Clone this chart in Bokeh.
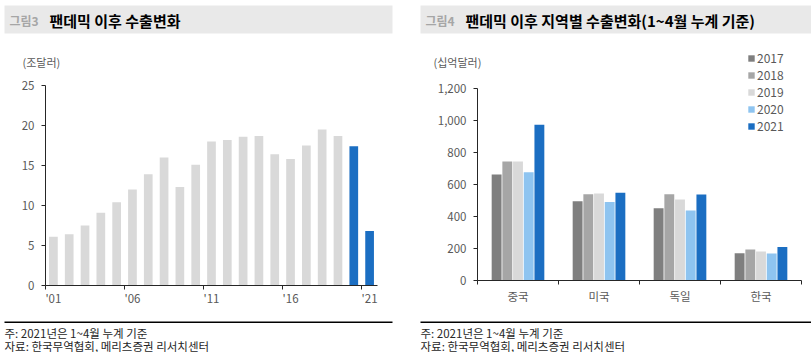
from bokeh.plotting import figure
from bokeh.models import (FixedTicker, Label, BoxAnnotation, Legend, LegendItem,
                          NumeralTickFormatter, ColumnDataSource, Range1d)
from bokeh.layouts import row
from bokeh.embed import file_html
from bokeh.resources import INLINE
from bokeh.transform import dodge

FONT = "Noto Sans CJK KR"

# ---- Chart 1 data: world exports (trillion USD) ----
world_years = [2001, 2002, 2003, 2004, 2005, 2006, 2007, 2008, 2009, 2010, 2011,
               2012, 2013, 2014, 2015, 2016, 2017, 2018, 2019, 2020, 2021]
world_exports = [6.1, 6.4, 7.5, 9.1, 10.4, 12.0, 13.9, 16.0, 12.3, 15.1, 18.0,
                 18.2, 18.6, 18.7, 16.4, 15.8, 17.5, 19.5, 18.7, 17.4, 6.8]
world_tick_years = [2001, 2006, 2011, 2016, 2021]
world_tick_labels = ["'01", "'06", "'11", "'16", "'21"]
world_y_ticks = [0, 5, 10, 15, 20, 25]
highlight_years = [2020, 2021]

# ---- Chart 2 data: exports by country, Jan-Apr cumulative (billion USD) ----
regions = ["중국", "미국", "독일", "한국"]
series_years = ["2017", "2018", "2019", "2020", "2021"]
exp_2017 = [662, 495, 451, 171]
exp_2018 = [743, 539, 539, 194]
exp_2019 = [743, 543, 507, 182]
exp_2020 = [676, 491, 438, 169]
exp_2021 = [973, 549, 537, 209]
region_y_ticks = [0, 200, 400, 600, 800, 1000, 1200]

GRAY_BAR = "#D9D9D9"
BLUE = "#1B6EC2"
series_colors = ["#7F7F7F", "#A6A6A6", "#D9D9D9", "#8EC4F0", "#1B6EC2"]
TXT = "#595959"
AXIS = "#262626"
H = 352


def ranges(fig_w, px_left, px_right, d_left, d_right, px_bottom, px_top, d_bottom, d_top):
    """Map the whole canvas so the plot area lands at the given pixel box."""
    sx = (px_right - px_left) / (d_right - d_left)
    sy = (px_bottom - px_top) / (d_top - d_bottom)
    xr = Range1d(d_left - px_left / sx, d_right + (fig_w - px_right) / sx)
    yr = Range1d(d_bottom - (H - px_bottom) / sy, d_top + px_top / sy)
    return xr, yr


def decorate(p, left, right, fig_label, title, title_x, unit, unit_x):
    p.add_layout(BoxAnnotation(left=left, right=right, top=5, bottom=33,
                               left_units="canvas", right_units="canvas",
                               top_units="canvas", bottom_units="canvas",
                               fill_color="#E9E9E9", fill_alpha=1, line_color=None))
    p.add_layout(Label(x=left + 5, y=20, x_units="canvas", y_units="canvas", text=fig_label,
                       text_baseline="middle", text_font=FONT, text_font_size="12px",
                       text_font_style="bold", text_color="#A6A6A6"))
    p.add_layout(Label(x=title_x, y=20, x_units="canvas", y_units="canvas", text=title,
                       text_baseline="middle", text_font=FONT, text_font_size="15px",
                       text_font_style="bold", text_color="#000000"))
    p.add_layout(Label(x=unit_x, y=61, x_units="canvas", y_units="canvas", text=unit,
                       text_baseline="middle", text_font=FONT, text_font_size="11px",
                       text_color=TXT))
    p.add_layout(BoxAnnotation(left=left, right=right, top=321, bottom=322.5,
                               left_units="canvas", right_units="canvas",
                               top_units="canvas", bottom_units="canvas",
                               fill_color="#000000", fill_alpha=1, line_color=None))
    p.add_layout(Label(x=left, y=332, x_units="canvas", y_units="canvas",
                       text="주: 2021년은 1~4월 누계 기준",
                       text_baseline="middle", text_font=FONT, text_font_size="11.5px",
                       text_color="#262626"))
    p.add_layout(Label(x=left, y=345, x_units="canvas", y_units="canvas",
                       text="자료: 한국무역협회, 메리츠증권 리서치센터",
                       text_baseline="middle", text_font=FONT, text_font_size="11.5px",
                       text_color="#262626"))


def style_axes(p, x_loc, y_loc, x_bounds, y_bounds):
    p.xaxis.fixed_location = x_loc
    p.yaxis.fixed_location = y_loc
    p.xaxis.bounds = x_bounds
    p.yaxis.bounds = y_bounds
    for ax in (p.xaxis[0], p.yaxis[0]):
        ax.axis_line_color = AXIS
        ax.axis_line_width = 1
        ax.major_label_text_font = FONT
        ax.major_label_text_font_size = "11.5px"
        ax.major_label_text_color = TXT
    p.yaxis.major_tick_line_color = AXIS
    p.yaxis.major_tick_out = 4
    p.yaxis.major_tick_in = 0
    p.yaxis.minor_tick_line_color = None
    p.yaxis.major_label_standoff = 7
    p.xaxis.major_tick_line_color = None
    p.xaxis.major_tick_out = 0
    p.xaxis.major_tick_in = 0
    p.xaxis.minor_tick_line_color = AXIS
    p.xaxis.minor_tick_out = 4
    p.xaxis.minor_tick_in = 0
    p.xgrid.visible = False
    p.ygrid.visible = False
    p.outline_line_color = None


def make_fig(w, xr, yr):
    return figure(width=w, height=H, output_backend="svg", toolbar_location=None,
                  x_range=xr, y_range=yr, min_border=0, min_border_left=0,
                  min_border_right=0, min_border_top=0, min_border_bottom=0)


# ---------------- Left chart ----------------
x0, x1 = world_years[0] - 0.5, world_years[-1] + 0.5
xr1, yr1 = ranges(405, 45, 377, x0, x1, 285, 85, world_y_ticks[0], world_y_ticks[-1])
p1 = make_fig(405, xr1, yr1)
colors1 = [BLUE if y in highlight_years else GRAY_BAR for y in world_years]
src1 = ColumnDataSource(dict(x=world_years, top=world_exports, color=colors1))
p1.vbar(x="x", top="top", width=0.55, fill_color="color", line_color=None, source=src1)
p1.yaxis.ticker = FixedTicker(ticks=world_y_ticks)
p1.xaxis.ticker = FixedTicker(ticks=world_tick_years,
                              minor_ticks=[y - 0.5 for y in world_tick_years])
p1.xaxis.major_label_overrides = {y: l for y, l in zip(world_tick_years, world_tick_labels)}
style_axes(p1, world_y_ticks[0], x0, (x0, x1), (world_y_ticks[0], world_y_ticks[-1]))
p1.xaxis.major_label_standoff = 0
decorate(p1, 4, 392, "그림3", "팬데믹 이후 수출변화", 49, "(조달러)", 22)

# ---------------- Right chart ----------------
n = len(regions)
xr2, yr2 = ranges(406, 72, 396, -0.5, n - 0.5, 280, 88, region_y_ticks[0], region_y_ticks[-1])
p2 = make_fig(406, xr2, yr2)
src2 = ColumnDataSource(dict(x=list(range(n)), y2017=exp_2017, y2018=exp_2018,
                             y2019=exp_2019, y2020=exp_2020, y2021=exp_2021))
items = []
step = 0.132
for i, (yr, col) in enumerate(zip(series_years, series_colors)):
    r = p2.vbar(x=dodge("x", (i - 2) * step, range=p2.x_range), top="y" + yr, width=0.122,
                fill_color=col, line_color=None, source=src2)
    items.append(LegendItem(label=yr, renderers=[r]))
p2.yaxis.ticker = FixedTicker(ticks=region_y_ticks)
p2.yaxis.formatter = NumeralTickFormatter(format="0,0")
p2.xaxis.ticker = FixedTicker(ticks=list(range(n)),
                              minor_ticks=[i - 0.5 for i in range(n + 1)])
p2.xaxis.major_label_overrides = {i: r for i, r in enumerate(regions)}
style_axes(p2, region_y_ticks[0], -0.5, (-0.5, n - 0.5), (region_y_ticks[0], region_y_ticks[-1]))
p2.xaxis.major_label_standoff = 3
legend = Legend(items=items, location=(342, 218), orientation="vertical",
                glyph_width=8, glyph_height=8, label_height=12, spacing=0,
                label_standoff=2, padding=0, margin=0, border_line_color=None,
                background_fill_alpha=0, label_text_font=FONT,
                label_text_font_size="12px", label_text_color=TXT)
p2.add_layout(legend)
decorate(p2, 15, 406, "그림4", "팬데믹 이후 지역별 수출변화(1~4월 누계 기준)", 60, "(십억달러)", 28)

layout = row(p1, p2, spacing=0)
open("out.html", "w").write(file_html(layout, INLINE))
